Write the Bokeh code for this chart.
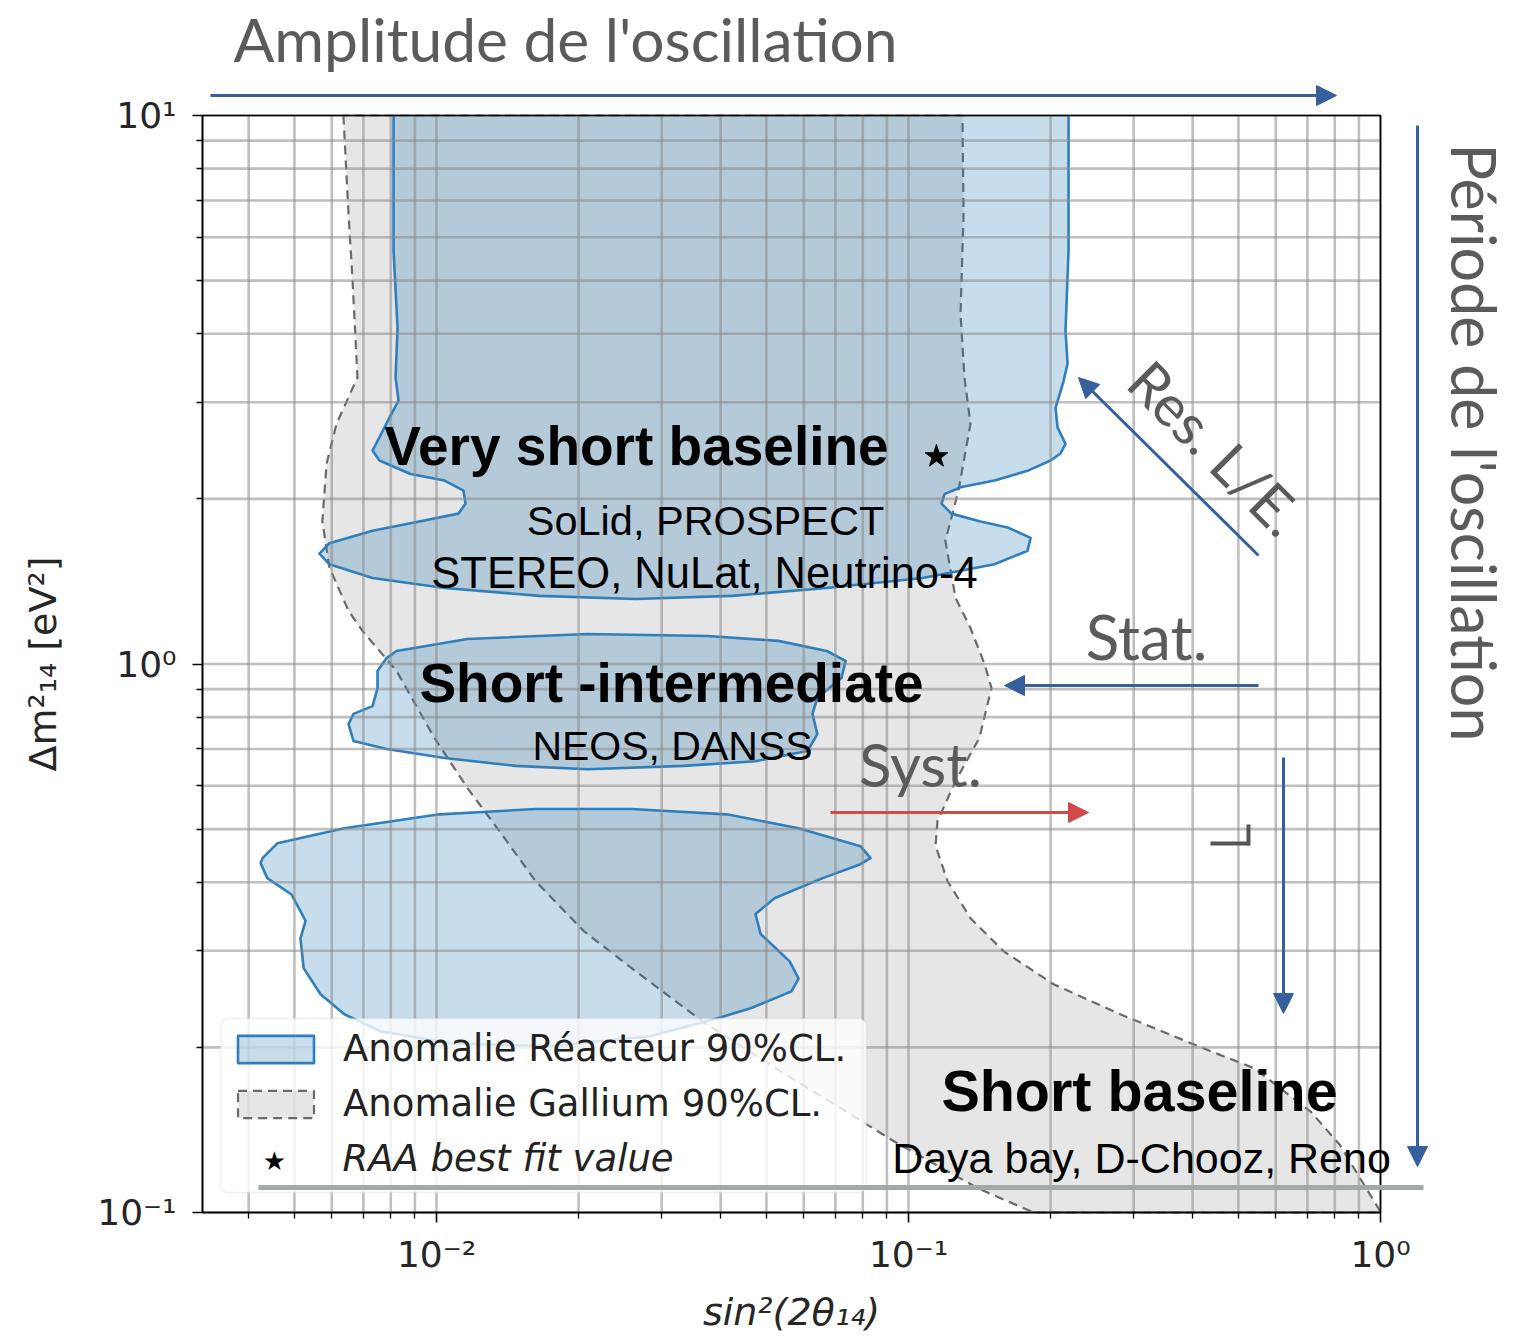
import math
from bokeh.plotting import figure
from bokeh.models import (FixedTicker, CustomJSTickFormatter, Label, Arrow, NormalHead,
                          Legend, LegendItem, LogAxis, Range1d, BoxAnnotation)
from bokeh.embed import file_html
from bokeh.resources import INLINE

# ---------------- data: sin^2(2θ14) (x) and Δm^2_14 [eV^2] (y) ----------------
gallium_left_x = [0.00635, 0.00651, 0.00664, 0.00680, 0.00614, 0.00585, 0.00573, 0.00593, 0.00651,
                  0.00697, 0.00823, 0.00990, 0.01163, 0.01373, 0.01621, 0.0205, 0.0259, 0.0366,
                  0.0535, 0.0754, 0.0929, 0.1406, 0.184]
gallium_left_y = [10.0, 6.62, 5.0, 3.33, 2.74, 2.32, 1.82, 1.50, 1.25, 1.149, 0.971, 0.733, 0.594,
                  0.490, 0.402, 0.326, 0.279, 0.223, 0.181, 0.151, 0.135, 0.1106, 0.1]
gallium_right_x = [0.1301, 0.1308, 0.1289, 0.1314, 0.1353, 0.1276, 0.1197, 0.1258, 0.1353, 0.1449,
                   0.1499, 0.1413, 0.1258, 0.1152, 0.1141, 0.1210, 0.1353, 0.1590, 0.2029, 0.281,
                   0.4217, 0.5408, 0.7110, 0.8187, 0.9904, 1.0]
gallium_right_y = [10.0, 6.62, 4.35, 3.33, 2.74, 2.07, 1.677, 1.32, 1.163, 1.0, 0.904, 0.733, 0.612,
                   0.517, 0.466, 0.402, 0.344, 0.2995, 0.2607, 0.2298, 0.1992, 0.1831, 0.1528,
                   0.1331, 0.1017, 0.1]

reactor_high_x = [0.00811, 0.00811, 0.00827, 0.00819, 0.00831, 0.00803, 0.00750, 0.00732, 0.00757,
                  0.00881, 0.01040, 0.01141, 0.01152, 0.01113, 0.00925, 0.00732, 0.00593, 0.00565,
                  0.00593, 0.00732, 0.01040, 0.01653, 0.0264, 0.0422, 0.0671, 0.1071, 0.1521,
                  0.1787, 0.1814, 0.1629, 0.1414, 0.1233, 0.1175, 0.1192, 0.1289, 0.1521, 0.1787,
                  0.2000, 0.2099, 0.2151, 0.2069, 0.2049, 0.2131, 0.2173, 0.2151, 0.2183, 0.2183]
reactor_high_y = [10.0, 5.67, 4.10, 3.33, 3.02, 2.86, 2.55, 2.45, 2.35, 2.22, 2.16, 2.07, 1.96, 1.88,
                  1.82, 1.75, 1.66, 1.59, 1.52, 1.435, 1.376, 1.331, 1.314, 1.331, 1.376, 1.435,
                  1.52, 1.608, 1.698, 1.771, 1.82, 1.88, 1.96, 2.04, 2.10, 2.16, 2.25, 2.35, 2.42,
                  2.52, 2.70, 2.93, 3.28, 3.53, 4.05, 5.67, 10.0]

reactor_mid_x = [0.00823, 0.01163, 0.0209, 0.0375, 0.0530, 0.0671, 0.0736, 0.0721, 0.0641, 0.0626,
                 0.0641, 0.0611, 0.0474, 0.0334, 0.0209, 0.0147, 0.0104, 0.00784, 0.00667, 0.00651,
                 0.00667, 0.00732, 0.00750, 0.00750, 0.00784]
reactor_mid_y = [1.056, 1.111, 1.134, 1.125, 1.102, 1.056, 1.013, 0.943, 0.867, 0.811, 0.745, 0.694,
                 0.665, 0.652, 0.643, 0.652, 0.674, 0.700, 0.724, 0.777, 0.811, 0.838, 0.904, 0.971,
                 1.025]

reactor_low_x = [0.00428, 0.00460, 0.00638, 0.01015, 0.01621, 0.0259, 0.0412, 0.0585, 0.0791, 0.0831,
                 0.0791, 0.0658, 0.0520, 0.0474, 0.0486, 0.0560, 0.0585, 0.0565, 0.0463, 0.0394,
                 0.0284, 0.01744, 0.01071, 0.00761, 0.00638, 0.00568, 0.00523, 0.00515, 0.00528,
                 0.00493, 0.00438, 0.00424]
reactor_low_y = [0.4426, 0.471, 0.502, 0.532, 0.544, 0.544, 0.532, 0.502, 0.4654, 0.4426, 0.4315,
                 0.407, 0.374, 0.350, 0.322, 0.287, 0.267, 0.253, 0.2357, 0.226, 0.2096, 0.201,
                 0.2034, 0.214, 0.2298, 0.250, 0.279, 0.316, 0.340, 0.380, 0.407, 0.4335]

best_fit_x = [0.1146]
best_fit_y = [2.39]

x_major_ticks = [0.01, 0.1, 1.0]
x_minor_ticks = [0.004, 0.005, 0.006, 0.007, 0.008, 0.009,
                 0.02, 0.03, 0.04, 0.05, 0.06, 0.07, 0.08, 0.09,
                 0.2, 0.3, 0.4, 0.5, 0.6, 0.7, 0.8, 0.9]
y_major_ticks = [0.1, 1.0, 10.0]
y_minor_ticks = [0.2, 0.3, 0.4, 0.5, 0.6, 0.7, 0.8, 0.9, 2, 3, 4, 5, 6, 7, 8, 9]

# ---------------- layout: inner plot box in canvas pixels ----------------
W, H = 1518, 1337
FL, FR, FT, FB = 202, 1380, 115, 1212
XMIN, XMAX, YMIN, YMAX = 10 ** (-2 - 234 / 472), 1.0, 0.1, 10.0
LX0, LX1 = math.log10(XMIN), math.log10(XMAX)
LY0, LY1 = math.log10(YMIN), math.log10(YMAX)


def X(px):
    return 10 ** (LX0 + (px - FL) / (FR - FL) * (LX1 - LX0))


def Y(py):
    return 10 ** (LY1 - (py - FT) / (FB - FT) * (LY1 - LY0))


BLUE = "#35609d"
GREY_TXT = "#5b5b5b"
REACT_LINE = "#2f7fbd"
REACT_FILL = "#1f77b4"
GRID_C = "#8a8a8a"

p = figure(width=W, height=H, x_axis_type="log", y_axis_type="log",
           x_range=Range1d(X(0), X(W)), y_range=Range1d(Y(H), Y(0)),
           x_axis_location=None, y_axis_location=None,
           output_backend="svg", toolbar_location=None, min_border=0)
p.title.visible = False
p.grid.visible = False
p.outline_line_color = None
p.background_fill_color = "white"
p.border_fill_color = "white"

fmt = CustomJSTickFormatter(code="""
const e = Math.round(Math.log10(tick));
const m = {"-2": "\u207b\u00b2", "-1": "\u207b\u00b9", "0": "\u2070", "1": "\u00b9"};
return "10" + m[String(e)];
""")

xt = FixedTicker(ticks=x_major_ticks, minor_ticks=x_minor_ticks)
yt = FixedTicker(ticks=y_major_ticks, minor_ticks=y_minor_ticks)

xaxis = LogAxis(fixed_location=YMIN, bounds=(XMIN, XMAX), ticker=xt, formatter=fmt,
                axis_label="sin\u00b2(2\u03b8\u2081\u2084)")
yaxis = LogAxis(fixed_location=XMIN, bounds=(YMIN, YMAX), ticker=yt, formatter=fmt,
                axis_label="\u0394m\u00b2\u2081\u2084 [eV\u00b2]")
for ax in (xaxis, yaxis):
    ax.major_label_text_font = "DejaVu Sans"
    ax.major_label_text_font_size = "36px"
    ax.major_label_text_color = "#262626"
    ax.axis_line_color = "black"
    ax.axis_line_width = 1.6
    ax.major_tick_out = 10
    ax.major_tick_in = 0
    ax.minor_tick_out = 6
    ax.minor_tick_in = 0
    ax.major_tick_line_width = 1.6
    ax.minor_tick_line_width = 1.3
    ax.axis_label_text_font = "DejaVu Sans"
    ax.axis_label_text_color = "#262626"
    ax.axis_label_text_font_size = "38px"
xaxis.axis_label_text_font_style = "italic"
xaxis.major_label_standoff = 11
xaxis.axis_label_standoff = 12
yaxis.axis_label_text_font_style = "normal"
yaxis.major_label_standoff = 16
yaxis.axis_label_standoff = 29
p.add_layout(xaxis, "below")
p.add_layout(yaxis, "left")

# ---------------- regions ----------------
gal_x = gallium_left_x + gallium_right_x[::-1]
gal_y = gallium_left_y + gallium_right_y[::-1]
r_gal = p.patch(gal_x, gal_y, fill_color="#808080", fill_alpha=0.2,
                line_color="#6a6a6a", line_width=2.2, line_dash="9 6")

p.patch(reactor_high_x, reactor_high_y, fill_color=REACT_FILL, fill_alpha=0.25, line_alpha=0)
p.line(reactor_high_x, reactor_high_y, line_color=REACT_LINE, line_width=2.6, line_join="round")
r_mid = p.patch(reactor_mid_x, reactor_mid_y, fill_color=REACT_FILL, fill_alpha=0.25,
                line_color=REACT_LINE, line_width=2.6, line_join="round")
p.patch(reactor_low_x, reactor_low_y, fill_color=REACT_FILL, fill_alpha=0.25,
        line_color=REACT_LINE, line_width=2.6, line_join="round")

# grid lines over the regions, limited to the plot box
gx = x_major_ticks + x_minor_ticks
gy = y_major_ticks + y_minor_ticks
p.segment(x0=gx, y0=[YMIN] * len(gx), x1=gx, y1=[YMAX] * len(gx),
          line_color=GRID_C, line_alpha=0.55, line_width=2.6)
p.segment(x0=[XMIN] * len(gy), y0=gy, x1=[XMAX] * len(gy), y1=gy,
          line_color=GRID_C, line_alpha=0.55, line_width=2.6)

p.scatter(best_fit_x, best_fit_y, marker="star", size=24, fill_color="black", line_color="black")

# plot box
p.add_layout(BoxAnnotation(left=XMIN, right=XMAX, bottom=YMIN, top=YMAX, fill_color=None,
                           line_color="black", line_width=1.6, line_alpha=1.0))

# ---------------- legend ----------------
p.add_layout(BoxAnnotation(left=X(220), right=X(866), bottom=Y(1192), top=Y(1018),
                           fill_color="white", fill_alpha=0.8, line_color="#cccccc",
                           line_width=1.5, border_radius=8))
legend = Legend(items=[LegendItem(label="Anomalie Réacteur 90%CL.", renderers=[r_mid]),
                       LegendItem(label="Anomalie Gallium 90%CL.", renderers=[r_gal]),
                       LegendItem(label=" ", renderers=[])],
                location=(228, H - 1171), orientation="vertical",
                label_text_font="DejaVu Sans", label_text_font_size="37px",
                label_text_color="#222222",
                glyph_width=95, glyph_height=34, label_standoff=20,
                padding=12, spacing=12, margin=0,
                background_fill_alpha=0.0, border_line_color=None)
p.add_layout(legend)

p.add_layout(Label(x=X(274), y=Y(1160), text="\u2605", text_font="DejaVu Sans",
                   text_font_size="26px", text_color="black",
                   text_align="center", text_baseline="middle"))
p.add_layout(Label(x=X(342), y=Y(1158), text="RAA best fit value", text_font="DejaVu Sans",
                   text_font_style="italic", text_font_size="37px", text_color="#222222",
                   text_align="left", text_baseline="middle"))


# ---------------- annotation texts ----------------
def lab(px, py, text, size, color="black", font="Liberation Sans", style="normal", angle=0.0,
        align="center"):
    p.add_layout(Label(x=X(px), y=Y(py), text=text, text_font=font, text_font_size=size,
                       text_font_style=style, text_color=color, angle=angle,
                       text_align=align, text_baseline="middle"))


lab(636, 445, "Very short baseline", "55px", style="bold")
lab(705, 520, "SoLid, PROSPECT", "41.5px")
lab(704, 572, "STEREO, NuLat, Neutrino-4", "43.5px")
lab(671, 682, "Short -intermediate", "55px", style="bold")
lab(672, 745, "NEOS, DANSS", "41px")
lab(1139, 1090, "Short baseline", "57.5px", style="bold")
lab(1141, 1157, "Daya bay, D-Chooz, Reno", "43px")

lab(565, 38, "Amplitude de l'oscillation", "60.5px", color=GREY_TXT, font="Lato")
lab(1474, 442, "Période de l'oscillation", "61px", color=GREY_TXT, font="Lato", angle=-math.pi / 2)
lab(1216, 447, "Res. L/E.", "57px", color=GREY_TXT, font="Lato", angle=-math.pi / 4)
lab(1146, 635, "Stat.", "62px", color=GREY_TXT, font="Lato")
lab(920, 763, "Syst.", "60px", color=GREY_TXT, font="Lato")


# ---------------- arrows ----------------
def arrow(x0, y0, x1, y1, color=BLUE, width=3, head=True):
    end = NormalHead(size=20, fill_color=color, line_color=color, line_width=1) if head else None
    p.add_layout(Arrow(x_start=X(x0), y_start=Y(y0), x_end=X(x1), y_end=Y(y1),
                       line_color=color, line_width=width, end=end))


arrow(210, 95, 1336, 95)
arrow(1417, 125, 1417, 1166)
arrow(1258, 555, 1078, 377)
arrow(1258, 685, 1004, 685)
arrow(830, 812, 1088, 812, color="#d24a48")
arrow(1283, 757, 1283, 1013)
arrow(1210, 843, 1249, 843, color="#555555", width=4, head=False)
arrow(1248, 845, 1248, 824, color="#555555", width=4, head=False)
arrow(258, 1187, 1423, 1187, color="#a1a9a9", width=5, head=False)

open("out.html", "w").write(file_html(p, INLINE))
